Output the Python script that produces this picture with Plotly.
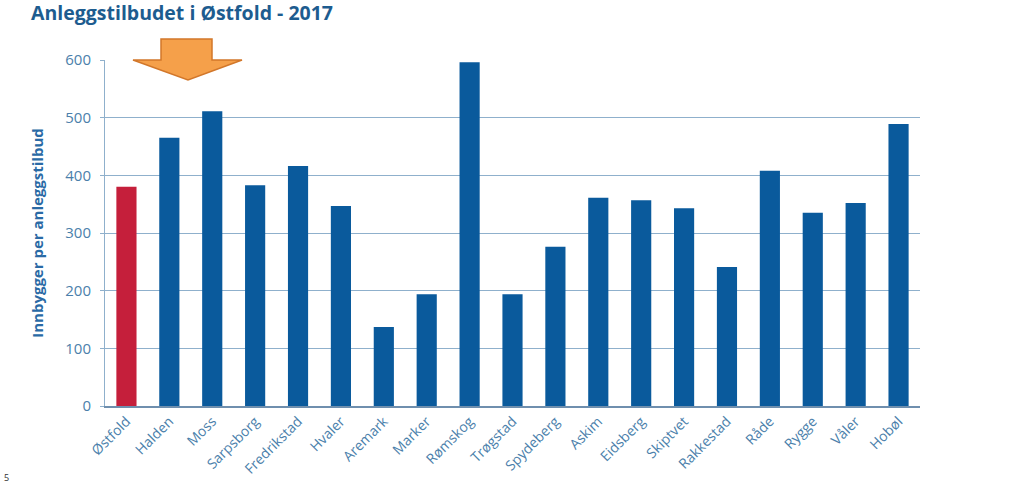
import plotly.graph_objects as go

categories = ["Østfold", "Halden", "Moss", "Sarpsborg", "Fredrikstad", "Hvaler", "Aremark",
              "Marker", "Rømskog", "Trøgstad", "Spydeberg", "Askim", "Eidsberg", "Skiptvet",
              "Rakkestad", "Råde", "Rygge", "Våler", "Hobøl"]
values = [380, 465, 511, 383, 416, 347, 137, 194, 596, 194, 276, 361, 357, 343, 241, 408, 335, 352, 489]
y_ticks = [0, 100, 200, 300, 400, 500, 600]

BLUE = "#0a5a9c"
RED = "#c51f3b"
colors = [RED] + [BLUE] * (len(categories) - 1)

fig = go.Figure(go.Bar(x=categories, y=values, marker=dict(color=colors, line=dict(width=0)),
                       width=0.47))

W, H = 1024, 484
L, R, T, B = 105, 104, 60, 78

def px(x):
    return (x - L) / (W - L - R)

def py(y):
    return (H - B - y) / (H - T - B)

fig.update_layout(
    width=W, height=H,
    margin=dict(l=L, r=R, t=T, b=B, autoexpand=False),
    plot_bgcolor="white", paper_bgcolor="white",
    showlegend=False,
    font=dict(family="Open Sans", color="#4b7fab"),
    xaxis=dict(tickangle=-45, tickfont=dict(size=14, color="#4b7fab"), showgrid=False,
               showline=True, linecolor="#6f8fae", linewidth=1.5, ticks="", automargin=False),
    yaxis=dict(range=[0, 600], tickvals=y_ticks, tickfont=dict(size=15, color="#4b7fab"),
               showgrid=True, gridcolor="#8fb0cc", gridwidth=1, zeroline=False, automargin=False,
               showline=True, linecolor="#8fb0cc", linewidth=1, ticks="outside",
               ticklen=4, tickcolor="#8fb0cc", ticklabelstandoff=6,
               title=dict(text="<b>Innbygger per anleggstilbud</b>",
                          font=dict(size=15, color="#2a6aa5"), standoff=18)),
)

fig.add_annotation(text="<b>Anleggstilbudet i Østfold - 2017</b>", xref="paper", yref="paper",
                   x=px(29), y=py(12), xanchor="left", yanchor="middle", showarrow=False,
                   font=dict(size=19.5, color="#1d5c8f", family="Open Sans"))
fig.add_annotation(text="5", xref="paper", yref="paper", x=px(2), y=py(477),
                   xanchor="left", yanchor="middle", showarrow=False,
                   font=dict(size=9, color="#333333"))

# orange arrow (decoration)
pts = [(161, 39), (212, 39), (212, 60), (242, 60), (188, 80), (133, 60), (161, 60)]
path = "M " + " L ".join(f"{px(x):.5f},{py(y):.5f}" for x, y in pts) + " Z"
fig.add_shape(type="path", xref="paper", yref="paper", path=path,
              fillcolor="#f5a04a", line=dict(color="#d2772a", width=1.5), layer="above")

fig.write_html("out.html", config={"displayModeBar": False},
               post_script="document.body.style.margin='0';document.body.style.overflow='hidden';")
